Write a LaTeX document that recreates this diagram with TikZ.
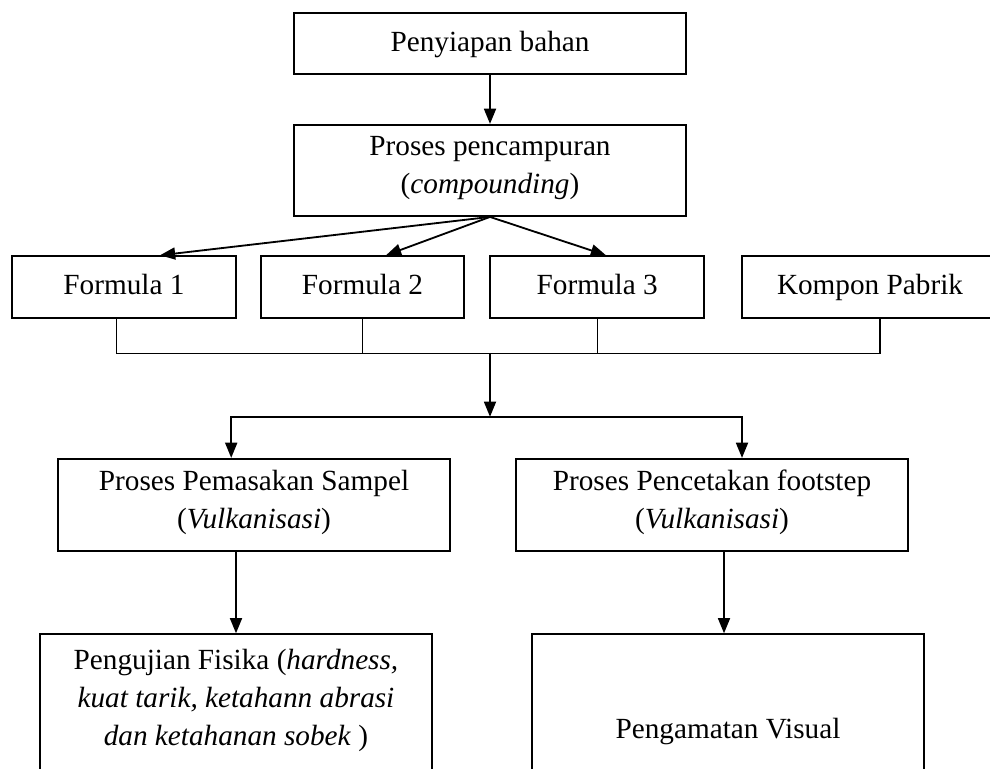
\documentclass[tikz,border=0pt]{standalone}
\usepackage{fontspec}
\setmainfont{Liberation Serif}
\usepackage{tikz}
\usetikzlibrary{arrows.meta}

\begin{document}
\begin{tikzpicture}[
  box/.style={draw, line width=1.3pt, align=center, inner sep=0pt,
    font=\fontsize{20.8}{27}\selectfont, execute at begin node=\strut},
  arr/.style={-{Triangle[length=0.38cm,width=0.3cm]}, line width=1.3pt},
  bus/.style={line width=0.8pt}]
  \useasboundingbox (0,0) rectangle (24.75,-19.2);
  \clip (0,0) rectangle (24.75,-19.2);

  \node[box, minimum width=9.8cm, minimum height=1.52cm] (bahan) at (12.25,-1.09) {Penyiapan bahan};
  \node[box, minimum width=9.8cm, minimum height=2.28cm] (campur) at (12.25,-4.26) {Proses pencampuran\\(\textit{compounding})};

  \node[box, minimum width=5.62cm, minimum height=1.55cm] (f1) at (3.1,-7.18) {Formula 1};
  \node[box, minimum width=5.08cm, minimum height=1.55cm] (f2) at (9.06,-7.18) {Formula 2};
  \node[box, minimum width=5.35cm, minimum height=1.55cm] (f3) at (14.93,-7.18) {Formula 3};
  \node[box, minimum width=6.4cm, minimum height=1.55cm] (kompon) at (21.75,-7.18) {Kompon Pabrik};

  \node[box, minimum width=9.78cm, minimum height=2.3cm] (masak) at (6.35,-12.62) {Proses Pemasakan Sampel\\(\textit{Vulkanisasi})};
  \node[box, minimum width=9.8cm, minimum height=2.3cm] (cetak) at (17.8,-12.62) {Proses Pencetakan footstep\\(\textit{Vulkanisasi})};

  \node[box, minimum width=9.8cm, minimum height=3.45cm] (uji) at (5.9,-17.58) {Pengujian Fisika (\textit{hardness,}\\\textit{kuat tarik, ketahann abrasi}\\\textit{dan ketahanan sobek} )};
  \node[box, minimum width=9.8cm, minimum height=4.85cm] (visual) at (18.2,-18.28) {Pengamatan Visual};

  \draw[arr] (bahan) -- (campur);

  \draw[arr] (campur.south) -- ([xshift=0.9cm]f1.north);
  \draw[arr] (campur.south) -- ([xshift=0.59cm]f2.north);
  \draw[arr] (campur.south) -- ([xshift=0.22cm]f3.north);

  % gabungan semua formula
  \coordinate (gabung) at (12.25,-8.82);
  \draw[bus] ([xshift=-0.18cm]f1.south) -- ++(0,-0.86) -| ([xshift=0.25cm]kompon.south);
  \draw[bus] (f2.south) -- (f2.south |- gabung);
  \draw[bus] (f3.south) -- (f3.south |- gabung);

  \coordinate (cabang) at (12.25,-10.42);
  \draw[arr] (gabung) -- (cabang);
  \draw[arr] (cabang) -| ([xshift=-0.57cm]masak.north);
  \draw[arr] (cabang) -| ([xshift=0.75cm]cetak.north);

  \draw[arr] (masak.south -| uji.north) -- (uji.north);
  \draw[arr] ([xshift=-0.1cm]cetak.south -| visual.north) -- ([xshift=-0.1cm]visual.north);
\end{tikzpicture}
\end{document}
